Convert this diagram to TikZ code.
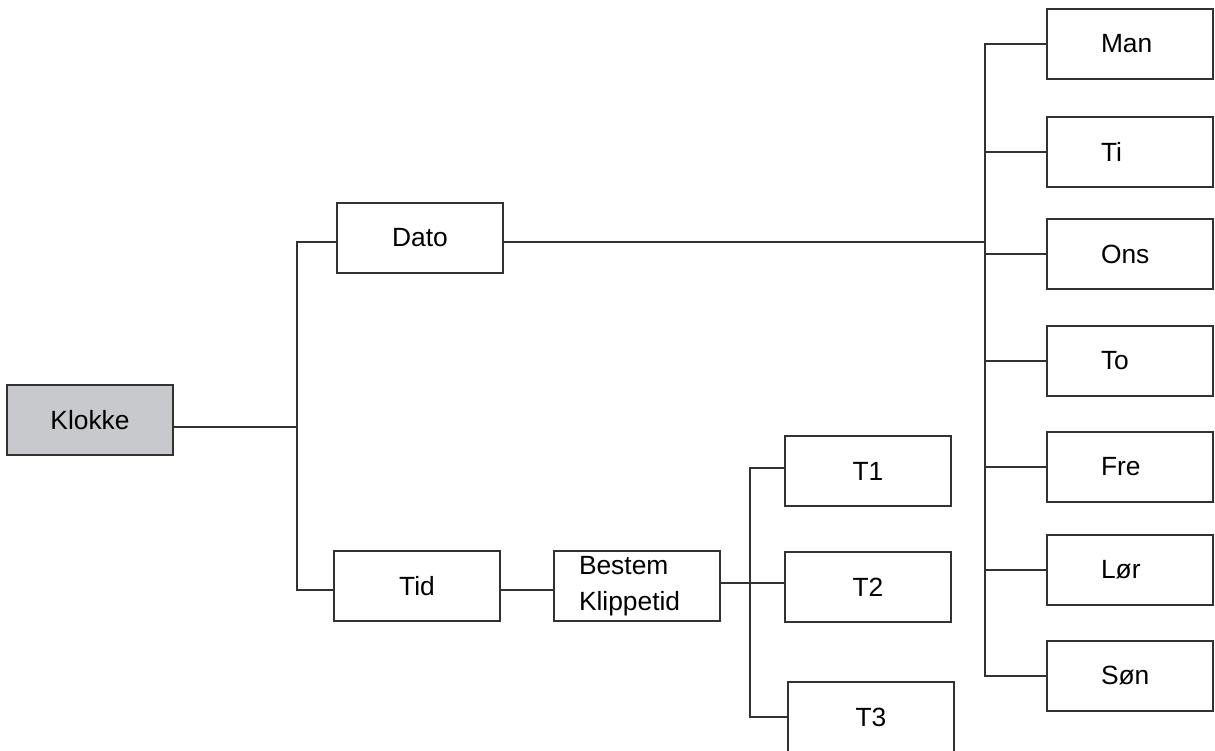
\documentclass[tikz,border=0pt]{standalone}
\usepackage{fontspec}
\setmainfont{Liberation Sans}
\usepackage{tikz}
\usetikzlibrary{positioning}
\definecolor{klokkegraa}{RGB}{200,201,204}
\definecolor{strek}{RGB}{50,50,50}
\tikzset{
  boks/.style={draw=strek,line width=1.15pt,minimum width=3.32cm,minimum height=1.4cm,inner sep=0pt},
  dagboks/.style={boks,text width=1.16cm,inner xsep=1.08cm,align=left},
  kobling/.style={draw=strek,line width=1.15pt}
}
\begin{document}
\begin{tikzpicture}[x=0.02cm,y=-0.02cm,font=\fontsize{15}{20}\selectfont]
\useasboundingbox (0,0) rectangle (1215,751);
% hovedboks
\node[boks,fill=klokkegraa] (klokke) at (90,420) {Klokke};
% andre nivaa
\node[boks] (dato) at (420,238) {Dato};
\node[boks] (tid) at (417,586) {Tid};
\node[boks,text width=2.32cm,inner xsep=0.5cm,align=left,
      font=\fontsize{15}{20.5}\selectfont] (bestem) at (637,586) {Bestem\\Klippetid};
% klippetider
\node[boks] (t1) at (868,471) {T1};
\node[boks] (t2) at (868,587) {T2};
\node[boks] (t3) at (871,717) {T3};
% ukedager
\foreach \navn/\tekst/\y in {man/Man/44,ti/Ti/152,ons/Ons/254,to/To/361,fre/Fre/467,lor/Lør/570,son/Søn/676}
  \node[dagboks] (\navn) at (1130,\y) {\tekst};
% akser
\coordinate (hovedakse) at (297,0);
\coordinate (takse) at (750,0);
\coordinate (dagakse) at (985,0);
% koblinger
\draw[kobling] ([yshift=-0.14cm]klokke.east) -- ([yshift=-0.14cm]klokke.east -| hovedakse);
\draw[kobling] ([yshift=-0.08cm]dato.west) -- ([yshift=-0.08cm]dato.west -| hovedakse)
  -- ([yshift=-0.08cm]tid.west -| hovedakse) -- ([yshift=-0.08cm]tid.west);
\draw[kobling] ([yshift=-0.08cm]tid.east) -- ([yshift=-0.08cm]bestem.west);
\draw[kobling] ([yshift=0.06cm]bestem.east) -- ([yshift=0.06cm]bestem.east -| t2.west);
\draw[kobling] ([yshift=0.06cm]t1.west) -- ([yshift=0.06cm]t1.west -| takse) -- (t3.west -| takse) -- (t3.west);
\draw[kobling] ([yshift=-0.08cm]dato.east) -- ([yshift=-0.08cm]dato.east -| dagakse);
\draw[kobling] (man.west) -- (man.west -| dagakse) -- (son.west -| dagakse) -- (son.west);
\foreach \navn in {ti,ons,to,fre,lor}
  \draw[kobling] (\navn.west) -- (\navn.west -| dagakse);
\end{tikzpicture}
\end{document}
